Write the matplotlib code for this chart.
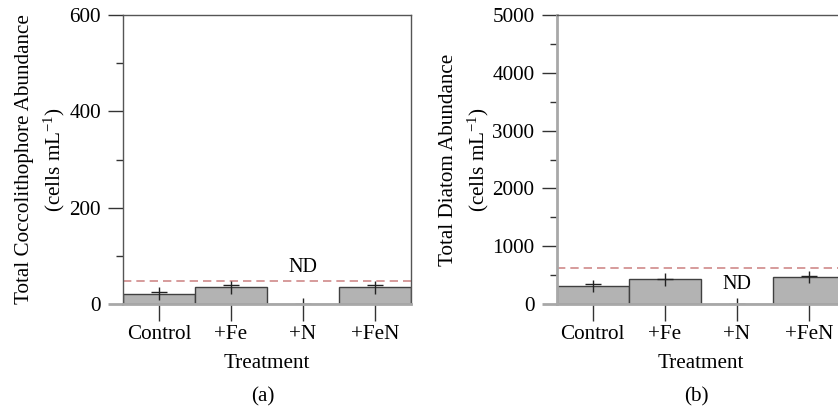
import numpy as np
import matplotlib
matplotlib.use('Agg')
import matplotlib.pyplot as plt

plt.rcParams['font.family'] = ['Liberation Serif', 'DejaVu Serif']
plt.rcParams['mathtext.fontset'] = 'custom'
plt.rcParams['mathtext.rm'] = 'Liberation Serif'
plt.rcParams['mathtext.it'] = 'Liberation Serif'
plt.rcParams['font.size'] = 15.2

treatments = ['Control', '+Fe', '+N', '+FeN']

# panel (a) coccolithophores
cocco_bar = [21, 35, 0, 35]
cocco_mean = [25, 40, 0, 39]
cocco_err_lo = [16, 19, 0, 18]
cocco_err_hi = [10, 7, 13, 9]
cocco_limit = 48
cocco_nd = 75

# panel (b) diatoms
diatom_bar = [317, 427, 0, 472]
diatom_mean = [346, 438, 0, 490]
diatom_err_lo = [133, 121, 0, 122]
diatom_err_hi = [69, 93, 109, 86]
diatom_limit = 628
diatom_nd = 341

W, H = 838, 413
fig = plt.figure(figsize=(W / 100, H / 100), dpi=100)
ax1 = fig.add_axes([123 / W, (H - 304) / H, 288 / W, 289 / H])
ax2 = fig.add_axes([556.7 / W, (H - 304) / H, 288 / W, 289 / H])


def panel(ax, bars, mean, lo, hi, limit, nd, ymax, major, ylab, tag, lcoord, dark_left):
    x = np.arange(len(treatments))
    ax.bar(x, bars, width=1.0, color='#b3b3b3', edgecolor='#404040', linewidth=1.0, zorder=2)
    ax.errorbar(x, mean, yerr=[lo, hi], fmt='_', color='#222222', markersize=11,
                elinewidth=1.0, capsize=0, zorder=2.3)
    ax.axhline(limit, color='#d08a8a', linestyle=(0, (5, 3)), linewidth=1.2, zorder=1)
    ax.text(2, nd, 'ND', ha='center', va='center', fontsize=14.5)
    ax.set_xlim(-0.5, 3.5)
    ax.set_ylim(0, ymax)
    ax.set_xticks(x)
    ax.set_xticklabels(treatments)
    ax.set_yticks(np.arange(0, ymax + 1, major))
    ax.set_yticks(np.arange(major / 2, ymax, major), minor=True)
    ax.tick_params(axis='x', direction='out', length=12, width=1.0, color='#333333', pad=3)
    ax.tick_params(axis='y', which='major', direction='out', length=11, width=1.0,
                   color='#333333', pad=5)
    ax.tick_params(axis='y', which='minor', direction='out', length=5, width=1.0, color='#333333')
    t0 = ax.yaxis.get_major_ticks()[0].tick1line
    t0.set_markeredgecolor('#a8a8a8')
    t0.set_markeredgewidth(2)
    ax.spines['bottom'].set_color('#a8a8a8')
    ax.spines['bottom'].set_linewidth(2)
    for s in ['top', 'right']:
        ax.spines[s].set_color('#555555')
        ax.spines[s].set_linewidth(1.0)
    if dark_left:
        ax.spines['left'].set_color('#555555')
        ax.spines['left'].set_linewidth(1.0)
    else:
        ax.spines['left'].set_color('#a8a8a8')
        ax.spines['left'].set_linewidth(2)
    ax.set_xlabel('Treatment', labelpad=7)
    ax.set_ylabel(ylab, linespacing=1.42)
    ax.yaxis.set_label_coords(lcoord, 0.5)
    pos = ax.get_position()
    fig.text(pos.x0 + pos.width / 2 - 0.005, (H - 397) / H, tag, ha='center', va='center')


panel(ax1, cocco_bar, cocco_mean, cocco_err_lo, cocco_err_hi, cocco_limit, cocco_nd,
      600, 200, 'Total Coccolithophore Abundance\n(cells mL$^{-1}$)', '(a)', -0.193, True)
panel(ax2, diatom_bar, diatom_mean, diatom_err_lo, diatom_err_hi, diatom_limit, diatom_nd,
      5000, 1000, 'Total Diatom Abundance\n(cells mL$^{-1}$)', '(b)', -0.228, False)

fig.savefig('out.png', dpi=100)
